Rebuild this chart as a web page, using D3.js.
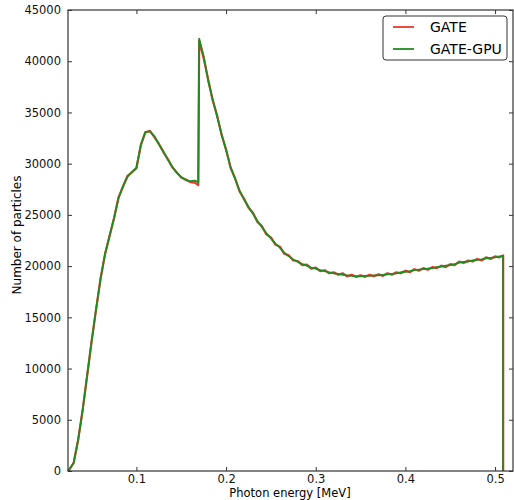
<!DOCTYPE html>
<html>
<head>
<meta charset="utf-8">
<script src="https://cdn.jsdelivr.net/npm/d3@7"></script>
<style>
  body { margin: 0; background: #fff; }
  text { font-family: "DejaVu Sans", sans-serif; }
</style>
</head>
<body>
<div class="chart"></div>
<script>
// photon energy [MeV] of each sample (shared by both series)
const energy = [0.024, 0.025, 0.030, 0.035, 0.040, 0.045, 0.050, 0.055, 0.060, 0.065,
  0.070, 0.075, 0.080, 0.085, 0.090, 0.095, 0.100, 0.105, 0.110, 0.115,
  0.120, 0.125, 0.130, 0.135, 0.140, 0.145, 0.150, 0.155, 0.160, 0.165,
  0.169, 0.170, 0.175, 0.180, 0.185, 0.190, 0.195, 0.200, 0.205, 0.210,
  0.215, 0.220, 0.225, 0.230, 0.235, 0.240, 0.245, 0.250, 0.255, 0.260,
  0.265, 0.270, 0.275, 0.280, 0.285, 0.290, 0.295, 0.300, 0.305, 0.310,
  0.315, 0.320, 0.325, 0.330, 0.335, 0.340, 0.345, 0.350, 0.355, 0.360,
  0.365, 0.370, 0.375, 0.380, 0.385, 0.390, 0.395, 0.400, 0.405, 0.410,
  0.415, 0.420, 0.425, 0.430, 0.435, 0.440, 0.445, 0.450, 0.455, 0.460,
  0.465, 0.470, 0.475, 0.480, 0.485, 0.490, 0.495, 0.500, 0.505, 0.509,
  0.509];

const gate = [0, 120, 780, 3050, 5950, 9250, 12650, 15750, 18800, 21150,
  22950, 24650, 26700, 27750, 28800, 29150, 29550, 31800, 33050, 33200,
  32600, 31950, 31150, 30450, 29650, 29150, 28650, 28450, 28200, 28150,
  27900, 42000, 40300, 38250, 36200, 34700, 32800, 31400, 29600, 28600,
  27300, 26600, 25700, 25200, 24300, 23900, 23100, 22800, 22100, 21900,
  21200, 21050, 20550, 20500, 20100, 20150, 19750, 19850, 19500, 19600,
  19300, 19400, 19150, 19300, 19000, 19150, 18950, 19100, 18950, 19150,
  19000, 19200, 19050, 19300, 19150, 19400, 19300, 19550, 19400, 19700,
  19550, 19800, 19650, 19900, 19800, 20050, 19900, 20200, 20100, 20450,
  20300, 20550, 20450, 20700, 20550, 20850, 20700, 20950, 20850, 21050,
  0];

const gateGpu = [0, 150, 800, 3000, 5900, 9300, 12600, 15800, 18700, 21200,
  22900, 24700, 26600, 27800, 28700, 29200, 29600, 31900, 33100, 33150,
  32700, 31900, 31200, 30400, 29700, 29100, 28700, 28400, 28300, 28350,
  28200, 42200, 40500, 38100, 36300, 34600, 32900, 31300, 29700, 28500,
  27400, 26500, 25800, 25100, 24400, 23800, 23200, 22700, 22200, 21800,
  21300, 20950, 20650, 20400, 20200, 20050, 19850, 19750, 19600, 19500,
  19400, 19300, 19250, 19150, 19100, 19050, 19000, 19000, 19050, 19050,
  19100, 19100, 19150, 19200, 19250, 19300, 19400, 19450, 19500, 19600,
  19650, 19700, 19750, 19800, 19900, 19950, 20050, 20100, 20200, 20350,
  20400, 20450, 20550, 20600, 20650, 20750, 20800, 20850, 20950, 21000,
  0];

const xTicks = [0.1, 0.2, 0.3, 0.4, 0.5];
const yTicks = [0, 5000, 10000, 15000, 20000, 25000, 30000, 35000, 40000, 45000];
const seriesNames = ["GATE", "GATE-GPU"];
const seriesColors = ["#e8382f", "#1f8c1f"];

const margin = {top: 10, right: 1, bottom: 29, left: 68};
const width = 514 - margin.left - margin.right,
      height = 500 - margin.top - margin.bottom;

const svg = d3.select(".chart").append("svg")
    .attr("width", 514)
    .attr("height", 500)
  .append("g")
    .attr("transform", "translate(" + margin.left + "," + margin.top + ")");

const xScale = d3.scaleLinear().domain([0.0237, 0.52]).range([0, width]);
const yScale = d3.scaleLinear().domain([0, 45000]).range([height, 0]);

// series lines
const line = d3.line()
    .x((d, i) => xScale(energy[i]))
    .y(d => yScale(d));

[gate, gateGpu].forEach((s, k) => {
  svg.append("path")
      .datum(s)
      .attr("fill", "none")
      .attr("stroke", seriesColors[k])
      .attr("stroke-width", k == 0 ? 2.2 : 1.8)
      .attr("stroke-linejoin", "round")
      .attr("d", line);
});

// axes, ticks pointing inward like matplotlib
const fmt = d3.format("d");
svg.append("g")
    .attr("transform", `translate(0,${height})`)
    .call(d3.axisBottom(xScale).tickValues(xTicks).tickSizeInner(-4).tickSizeOuter(0).tickPadding(4).tickFormat(d3.format(".1f")));
svg.append("g")
    .call(d3.axisTop(xScale).tickValues(xTicks).tickSizeInner(-4).tickSizeOuter(0).tickFormat(""));
svg.append("g")
    .call(d3.axisLeft(yScale).tickValues(yTicks).tickSizeInner(-4).tickSizeOuter(0).tickPadding(7).tickFormat(fmt));
svg.append("g")
    .attr("transform", `translate(${width},0)`)
    .call(d3.axisRight(yScale).tickValues(yTicks).tickSizeInner(-4).tickSizeOuter(0).tickFormat(""));

svg.selectAll(".domain").remove();
svg.selectAll(".tick line").attr("stroke", "#333");
svg.selectAll(".tick text").attr("font-size", "11.5px").attr("fill", "#111")
    .style("font-family", "DejaVu Sans");

// frame
svg.append("rect")
    .attr("width", width)
    .attr("height", height)
    .attr("fill", "none")
    .attr("stroke", "#333")
    .attr("stroke-width", 1.2);

// axis labels
svg.append("text")
    .attr("x", 222)
    .attr("y", height + 25.5)
    .attr("text-anchor", "middle")
    .attr("font-size", "11.5px")
    .text("Photon energy [MeV]");

svg.append("text")
    .attr("transform", `translate(-47,${225}) rotate(-90)`)
    .attr("text-anchor", "middle")
    .attr("font-size", "12px")
    .text("Number of particles");

// legend
const lg = svg.append("g").attr("transform", `translate(${315},${6})`);
lg.append("rect")
    .attr("width", 124)
    .attr("height", 44)
    .attr("rx", 3)
    .attr("fill", "#fff")
    .attr("stroke", "#333")
    .attr("stroke-width", 1);
seriesNames.forEach((n, i) => {
  lg.append("line")
      .attr("x1", 10).attr("x2", 31)
      .attr("y1", 11 + i * 22).attr("y2", 11 + i * 22)
      .attr("stroke", seriesColors[i])
      .attr("stroke-width", 1.8);
  lg.append("text")
      .attr("x", 47)
      .attr("y", 16 + i * 22)
      .attr("font-size", "14px")
      .text(n);
});
</script>
</body>
</html>
